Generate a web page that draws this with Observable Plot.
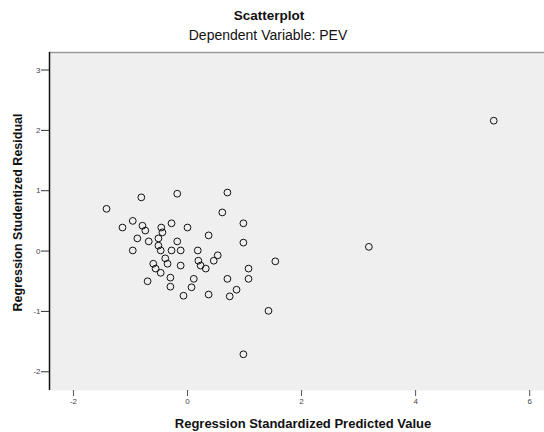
<!DOCTYPE html>
<html>
<head>
<meta charset="utf-8">
<script src="https://cdn.jsdelivr.net/npm/d3@7"></script>
<script src="https://cdn.jsdelivr.net/npm/@observablehq/plot@0.6"></script>
<style>
  html, body { margin: 0; padding: 0; background: #fff; }
  #chart svg { display: block; }
</style>
</head>
<body>
<div id="chart"></div>
<script>
// Regression standardized predicted value (x) and studentized residual (y)
const predicted = [
  -1.42, -0.81, -0.18, 0.70, 0.61, -0.96, -1.14, -0.79, -0.46, -0.28,
  0.00, 0.98, -0.88, -0.68, -0.51, -0.51, -0.47, -0.28, -0.12, -0.96,
  -0.18, 0.37, 0.98, 0.18, 0.19, -0.60, -0.35, -0.12, 0.23, 0.46,
  0.53, -0.47, -0.30, 1.54, 1.07, 1.07, 0.70, -0.70, -0.30, 0.11,
  -0.07, 0.37, 0.74, 0.86, 1.42, 0.98, 3.18, 5.37, 0.32, 0.07,
  -0.44, -0.74, -0.39, -0.56
];
const residual = [
  0.70, 0.89, 0.95, 0.97, 0.64, 0.50, 0.39, 0.42, 0.39, 0.46,
  0.39, 0.46, 0.21, 0.16, 0.21, 0.09, 0.01, 0.01, 0.01, 0.01,
  0.16, 0.26, 0.14, 0.01, -0.16, -0.21, -0.21, -0.24, -0.24, -0.16,
  -0.07, -0.36, -0.44, -0.17, -0.29, -0.46, -0.46, -0.50, -0.59, -0.46,
  -0.74, -0.72, -0.75, -0.64, -0.99, -1.71, 0.07, 2.16, -0.29, -0.60,
  0.31, 0.34, -0.12, -0.29
];
const xTicks = [-2, 0, 2, 4, 6];
const yTicks = [-2, -1, 0, 1, 2, 3];
const xDomain = [-2.42, 6.26];
const yDomain = [-2.31, 3.29];
const titleText = "Scatterplot";
const subtitleText = "Dependent Variable: PEV";
const xLabel = "Regression Standardized Predicted Value";
const yLabel = "Regression Studentized Residual";

const points = predicted.map((x, i) => ({x, y: residual[i]}));
const font = "'Liberation Sans', Arial, sans-serif";

const chart = Plot.plot({
  width: 544,
  height: 432,
  marginTop: 52,
  marginBottom: 42,
  marginLeft: 49,
  marginRight: 0,
  style: {fontFamily: font, background: "#fff", color: "#222"},
  x: {domain: xDomain, ticks: xTicks, tickSize: 6, tickPadding: 2, label: null, tickFormat: d => String(d)},
  y: {domain: yDomain, ticks: yTicks, tickSize: 8, tickPadding: 1, label: null, tickFormat: d => String(d)},
  marks: [
    Plot.frame({fill: "#efefef", stroke: null}),
    Plot.ruleY([yDomain[1]], {stroke: "#9a9a9a", strokeWidth: 1.5}),
    Plot.ruleX([xDomain[0]], {stroke: "#111", strokeWidth: 1.5}),
    Plot.axisX({ticks: xTicks, tickSize: 6, tickPadding: 2, fontSize: 8, stroke: "#555", fill: "#444", label: null, tickFormat: d => String(d)}),
    Plot.axisY({ticks: yTicks, tickSize: 8, tickPadding: 1, fontSize: 8, stroke: "#333", fill: "#444", label: null, tickFormat: d => String(d)}),
    Plot.dot(points, {x: "x", y: "y", r: 3.4, stroke: "#111", strokeWidth: 1, fill: "none"}),
    Plot.text([titleText], {frameAnchor: "top", lineAnchor: "middle", dy: -37, dx: -28, fontSize: 13.5, fontWeight: "bold", fill: "#111"}),
    Plot.text([subtitleText], {frameAnchor: "top", lineAnchor: "middle", dy: -17, dx: -29, fontSize: 14, fill: "#111"}),
    Plot.text([xLabel], {frameAnchor: "bottom", lineAnchor: "middle", dy: 33, dx: 6, fontSize: 13, fontWeight: "bold", fill: "#111"}),
    Plot.text([yLabel], {frameAnchor: "middle", lineAnchor: "middle", dx: -279, dy: -9, rotate: -90, fontSize: 12.5, fontWeight: "bold", fill: "#111"})
  ]
});
document.getElementById("chart").appendChild(chart);
</script>
</body>
</html>
